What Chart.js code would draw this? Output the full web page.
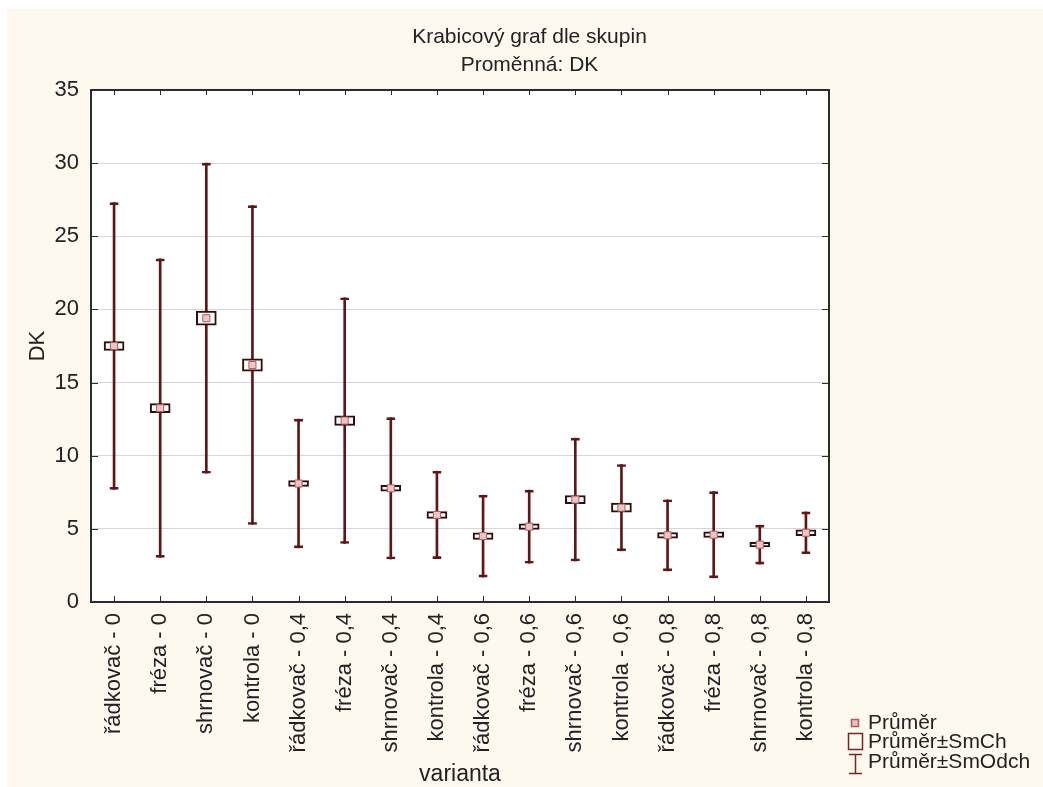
<!DOCTYPE html>
<html>
<head>
<meta charset="utf-8">
<script src="https://cdn.jsdelivr.net/npm/chart.js@4/dist/chart.umd.min.js"></script>
<style>
  html, body { margin: 0; padding: 0; background: #ffffff; }
  #wrap { width: 1043px; height: 787px; }
</style>
</head>
<body>
<div id="wrap"><canvas id="myChart" width="1043" height="787"></canvas></div>
<script>
// categories (varianta)
var categories = ['řádkovač - 0', 'fréza - 0', 'shrnovač - 0', 'kontrola - 0',
    'řádkovač - 0,4', 'fréza - 0,4', 'shrnovač - 0,4', 'kontrola - 0,4',
    'řádkovač - 0,6', 'fréza - 0,6', 'shrnovač - 0,6', 'kontrola - 0,6',
    'řádkovač - 0,8', 'fréza - 0,8', 'shrnovač - 0,8', 'kontrola - 0,8'];

// Průměr
var means = [17.5, 13.25, 19.4, 16.2, 8.1, 12.4, 7.77, 5.95, 4.5, 5.15, 7.0, 6.45, 4.56, 4.6, 3.92, 4.73];
// SmCh (standard error)
var stdErr = [0.3, 0.31, 0.48, 0.42, 0.2, 0.33, 0.2, 0.23, 0.23, 0.19, 0.28, 0.31, 0.19, 0.19, 0.16, 0.2];
// SmOdch (standard deviation)
var stdDev = [9.8, 10.2, 10.6, 10.9, 4.4, 8.4, 4.83, 2.99, 2.8, 2.5, 4.2, 2.95, 2.43, 2.95, 1.33, 1.43];

var yTicks = [0, 5, 10, 15, 20, 25, 30, 35];

var FONT = "'Liberation Sans', Arial, sans-serif";
var MAROON = '#5e1717';
var TEXT = '#222222';

var boxRanges = means.map(function (m, i) { return [m - stdErr[i], m + stdErr[i]]; });
var whiskerRanges = means.map(function (m, i) { return [m - stdDev[i], m + stdDev[i]]; });

// cream background, white plot area, frame and inner ticks
var framePlugin = {
    id: 'frame',
    beforeDraw: function (chart) {
        var c = chart.ctx, a = chart.chartArea;
        c.save();
        c.fillStyle = '#fef9ef';
        c.fillRect(7, 9, chart.width - 7, chart.height - 9);
        c.fillStyle = '#ffffff';
        c.fillRect(a.left, a.top, a.right - a.left, a.bottom - a.top);
        c.restore();
    },
    beforeDatasetsDraw: function (chart) {
        var c = chart.ctx, a = chart.chartArea;
        var x = chart.scales.x, y = chart.scales.y;
        c.save();
        c.strokeStyle = '#2b2b2b';
        c.lineWidth = 1;
        c.beginPath();
        categories.forEach(function (cat, i) {
            var px = Math.round(x.getPixelForValue(i)) + 0.5;
            c.moveTo(px, a.top); c.lineTo(px, a.top + 5);
            c.moveTo(px, a.bottom); c.lineTo(px, a.bottom - 6);
        });
        yTicks.forEach(function (v) {
            var py = Math.round(y.getPixelForValue(v)) + 0.5;
            c.moveTo(a.left, py); c.lineTo(a.left + 7, py);
            c.moveTo(a.right, py); c.lineTo(a.right - 7, py);
        });
        c.stroke();
        c.lineWidth = 2;
        c.strokeRect(a.left, a.top, a.right - a.left, a.bottom - a.top);
        c.restore();
    }
};

// legend in the lower right corner
var legendPlugin = {
    id: 'boxLegend',
    afterDraw: function (chart) {
        var c = chart.ctx;
        c.save();
        // Průměr
        c.fillStyle = '#e9c2c2';
        c.strokeStyle = '#b05a5a';
        c.lineWidth = 1.5;
        c.fillRect(851.5, 719.5, 7, 7);
        c.strokeRect(851.5, 719.5, 7, 7);
        // Průměr±SmCh
        c.strokeStyle = '#7a2424';
        c.strokeRect(848.5, 733.5, 14, 16);
        // Průměr±SmOdch
        c.beginPath();
        c.moveTo(855.5, 754); c.lineTo(855.5, 774);
        c.moveTo(849, 754.5); c.lineTo(862, 754.5);
        c.moveTo(849, 773.5); c.lineTo(862, 773.5);
        c.stroke();

        c.fillStyle = TEXT;
        c.font = '21px ' + FONT;
        c.textBaseline = 'middle';
        c.textAlign = 'left';
        c.fillText('Průměr', 868, 723);
        c.fillText('Průměr±SmCh', 868, 742);
        c.fillText('Průměr±SmOdch', 868, 762);
        c.restore();
    }
};

var ctx = document.getElementById('myChart').getContext('2d');
var chart = new Chart(ctx, {
    type: 'bar',
    data: {
        labels: categories,
        datasets: [{
            // mean marker
            type: 'line',
            label: 'Průměr',
            data: means,
            showLine: false,
            pointStyle: 'rect',
            pointRadius: 5,
            pointBackgroundColor: '#ecc6c6',
            pointBorderColor: '#b45c5c',
            pointBorderWidth: 1,
            order: 0
        }, {
            // mean ± SE box
            label: 'Průměr±SmCh',
            data: boxRanges,
            grouped: false,
            barThickness: 20,
            backgroundColor: '#ffffff',
            borderColor: '#2e0d0d',
            borderWidth: 2,
            borderSkipped: false,
            order: 1
        }, {
            // whisker caps
            label: 'caps',
            data: whiskerRanges,
            grouped: false,
            barThickness: 9,
            backgroundColor: 'rgba(0,0,0,0)',
            borderColor: MAROON,
            borderWidth: { top: 2, bottom: 2, left: 0, right: 0 },
            borderSkipped: false,
            order: 2
        }, {
            // whisker stem: mean ± SD
            label: 'Průměr±SmOdch',
            data: whiskerRanges,
            grouped: false,
            barThickness: 2,
            backgroundColor: MAROON,
            borderWidth: 0,
            order: 3
        }]
    },
    options: {
        responsive: false,
        animation: false,
        layout: { padding: { left: 16, top: 0, right: 0, bottom: 0 } },
        plugins: {
            legend: { display: false },
            tooltip: { enabled: false },
            title: {
                display: true,
                text: ['Krabicový graf dle skupin', 'Proměnná: DK'],
                color: TEXT,
                font: { family: FONT, size: 21, weight: 'normal', lineHeight: 1.333 },
                padding: { top: 23, bottom: 11 }
            }
        },
        scales: {
            x: {
                grid: { display: false, drawTicks: false },
                border: { display: false },
                ticks: {
                    color: TEXT,
                    font: { family: FONT, size: 22 },
                    maxRotation: 90,
                    minRotation: 90,
                    autoSkip: false,
                    padding: 11
                },
                title: {
                    display: true,
                    text: 'varianta',
                    color: TEXT,
                    font: { family: FONT, size: 23, lineHeight: 1 },
                    padding: { top: 0, bottom: 1 }
                },
                afterFit: function (s) { s.height = 185; }
            },
            y: {
                min: 0,
                max: 35,
                grid: { color: '#d6d6d6', lineWidth: 1, drawTicks: false },
                border: { display: false },
                ticks: {
                    stepSize: 5,
                    color: TEXT,
                    font: { family: FONT, size: 22 },
                    padding: 12
                },
                title: {
                    display: true,
                    text: 'DK',
                    color: TEXT,
                    font: { family: FONT, size: 22 },
                    padding: { top: 9, bottom: 0 }
                },
                afterFit: function (s) { s.width = 75; }
            },
            // empty right-hand area that holds the legend
            yR: {
                type: 'linear',
                position: 'right',
                grid: { display: false },
                border: { display: false },
                ticks: { display: false },
                afterFit: function (s) { s.width = 214; }
            }
        }
    },
    plugins: [framePlugin, legendPlugin]
});
</script>
</body>
</html>
